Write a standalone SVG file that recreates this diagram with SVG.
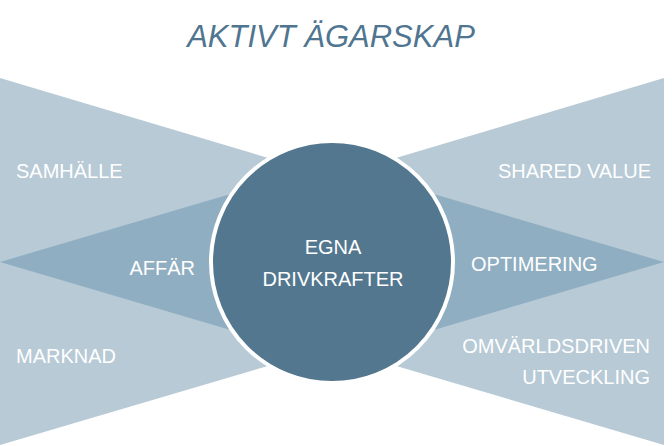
<svg xmlns="http://www.w3.org/2000/svg" width="672" height="446" viewBox="0 0 672 446">
<style>
.light{fill:#B7CAD6}
.mid{fill:#90AEC1}
.core{fill:#52778F;stroke:#FFFFFF;stroke-width:4}
.lbl{font-family:"Liberation Sans",Arial,sans-serif;font-size:20px;fill:#FFFFFF}
.title{font-family:"Liberation Sans",Arial,sans-serif;font-size:31px;font-style:italic;fill:#4F7590}
</style>
<rect width="672" height="446" fill="#FFFFFF"/>
<text class="title" x="331" y="47" text-anchor="middle">AKTIVT ÄGARSKAP</text>
<g id="left-outer">
<polygon class="light" points="0,78 332,177 332,347 0,445"/>
<text class="lbl" x="16" y="178">SAMHÄLLE</text>
<text class="lbl" x="16" y="363">MARKNAD</text>
</g>
<g id="right-outer">
<polygon class="light" points="664,78 332,177 332,347 664,445"/>
<text class="lbl" x="651" y="178" text-anchor="end">SHARED VALUE</text>
<text class="lbl" x="650" y="353" text-anchor="end">OMVÄRLDSDRIVEN</text>
<text class="lbl" x="650" y="384" text-anchor="end">UTVECKLING</text>
</g>
<g id="left-inner">
<polygon class="mid" points="0,262 332,164 332,360"/>
<text class="lbl" x="195" y="275" text-anchor="end">AFFÄR</text>
</g>
<g id="right-inner">
<polygon class="mid" points="664,262 332,164 332,360"/>
<text class="lbl" x="471" y="271">OPTIMERING</text>
</g>
<g id="center">
<circle class="core" cx="332" cy="262" r="121"/>
<text class="lbl" x="333" y="254" text-anchor="middle">EGNA</text>
<text class="lbl" x="333" y="286" text-anchor="middle">DRIVKRAFTER</text>
</g>
<g id="connectors"/>
</svg>
